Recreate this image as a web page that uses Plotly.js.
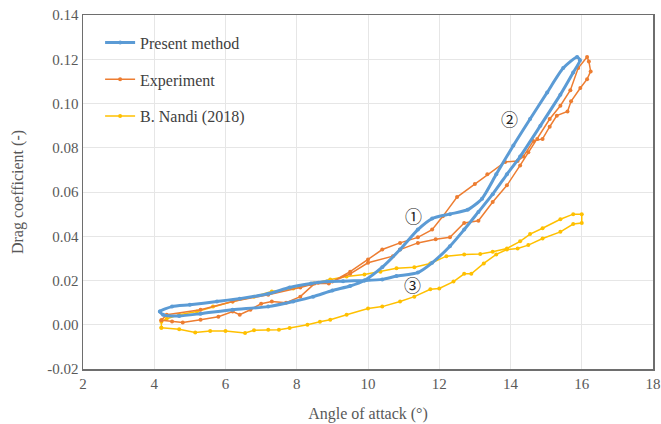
<!DOCTYPE html>
<html><head><meta charset="utf-8">
<script src="https://cdn.plot.ly/plotly-3.0.1.min.js"></script>
<style>body{margin:0;background:#fff}#c{width:661px;height:424px}</style>
</head><body><div id="c"></div>
<script>
const presentX = [4.16,4.5,5.0,5.76,6.4,7.2,7.8,8.4,8.85,9.3,9.9,10.4,10.8,11.4,11.8,12.3,12.7,13.1,13.5,13.9,14.27,14.84,15.4,15.76,15.95,
  15.87,15.48,15.03,14.55,14.08,13.6,13.2,12.8,12.3,11.8,11.4,10.9,10.4,9.9,9.5,9.0,8.46,7.9,7.2,6.2,5.3,4.7,4.25,4.16];
const presentY = [0.006,0.0082,0.009,0.0105,0.0118,0.014,0.0168,0.0186,0.0195,0.0197,0.020,0.0205,0.022,0.0236,0.028,0.0355,0.043,0.051,0.059,0.068,0.076,0.09,0.104,0.114,0.1195,
  0.121,0.116,0.105,0.093,0.081,0.068,0.057,0.052,0.050,0.048,0.043,0.034,0.026,0.020,0.0175,0.0155,0.0127,0.0105,0.0082,0.0068,0.005,0.004,0.0045,0.006];

const expX = [4.2,4.5,4.8,5.3,5.8,6.2,6.4,6.7,7.0,7.3,7.7,8.1,8.5,8.9,9.5,10.0,10.4,10.9,11.4,11.8,12.1,12.5,13.0,13.35,13.85,14.2,14.36,14.64,14.9,15.1,15.3,15.6,15.7,15.96,16.15,16.25,16.2,16.15,
  15.9,15.68,15.4,15.1,14.75,14.5,14.27,13.9,13.5,13.1,12.7,12.3,11.9,11.4,10.9,10.7,10.0,9.5,9.0,8.6,8.1,7.2,6.2,5.3,4.35,4.2];
const expY = [0.002,0.0015,0.001,0.0023,0.0036,0.006,0.0045,0.0068,0.0095,0.0105,0.010,0.0127,0.0186,0.0186,0.024,0.0295,0.034,0.037,0.0395,0.043,0.049,0.0577,0.0636,0.068,0.0736,0.074,0.076,0.083,0.084,0.0895,0.0945,0.0964,0.101,0.107,0.111,0.1145,0.119,0.121,
  0.116,0.106,0.099,0.093,0.084,0.078,0.072,0.063,0.0555,0.047,0.046,0.0395,0.0386,0.037,0.034,0.031,0.028,0.023,0.0195,0.019,0.0168,0.0136,0.0105,0.0068,0.0045,0.002];

const nandiX = [4.2,4.7,5.15,5.57,6.0,6.55,6.8,7.2,7.5,7.8,8.3,8.65,8.94,9.4,10.0,10.4,10.9,11.3,11.75,12.0,12.4,12.7,12.9,13.25,13.6,13.9,14.2,14.5,14.9,15.4,15.76,16.0,16.0,
  15.76,15.4,14.9,14.55,14.27,13.9,13.5,13.15,12.7,12.2,11.75,11.3,10.8,10.35,9.9,9.4,8.94,8.46,7.9,7.3,6.8,6.2,5.65,5.2,4.7,4.35,4.2,4.2];
const nandiY = [-0.0014,-0.002,-0.0035,-0.0028,-0.0028,-0.0037,-0.0025,-0.0023,-0.0023,-0.0015,0.0,0.0014,0.0023,0.0045,0.0073,0.0082,0.0105,0.0127,0.016,0.0164,0.0195,0.023,0.023,0.0277,0.0318,0.034,0.0345,0.036,0.039,0.042,0.0455,0.046,0.050,
  0.050,0.0477,0.0436,0.041,0.0377,0.0345,0.033,0.032,0.0318,0.031,0.0277,0.026,0.0255,0.024,0.0227,0.0218,0.0205,0.0186,0.0164,0.015,0.0127,0.0105,0.0082,0.006,0.0045,0.0027,0.0014,-0.0014];

const xTicks = [2,4,6,8,10,12,14,16,18];
const yTicks = [-0.02,0,0.02,0.04,0.06,0.08,0.10,0.12,0.14];
const yTickText = ['-0.02','0.00','0.02','0.04','0.06','0.08','0.10','0.12','0.14'];
const labels = [
  {t:'\u2460', x:11.27, y:0.0495},
  {t:'\u2461', x:13.97, y:0.0932},
  {t:'\u2462', x:11.24, y:0.0182}
];

const serif = 'Liberation Serif';
const traces = [
  {x:nandiX, y:nandiY, name:'B. Nandi (2018)', mode:'lines+markers', legendgroup:'c', legendrank:3,
   line:{color:'#FFC000', width:1.5}, marker:{color:'#FFC000', size:4}},
  {x:expX, y:expY, name:'Experiment', mode:'lines+markers', legendgroup:'b', legendrank:2,
   line:{color:'#ED7D31', width:1.5}, marker:{color:'#ED7D31', size:4}},
  {x:presentX, y:presentY, name:'Present method', mode:'lines+markers', legendgroup:'a', legendrank:1,
   line:{color:'#5B9BD5', width:3, shape:'spline', smoothing:0.6}, marker:{color:'#5B9BD5', size:4}}
];
const layout = {
  width:661, height:424,
  margin:{l:83, r:8, t:15, b:55},
  paper_bgcolor:'#fff', plot_bgcolor:'#fff',
  font:{family:serif, color:'#595959', size:14},
  showlegend:true,
  legend:{x:0.03, y:0.97, xanchor:'left', yanchor:'top', bgcolor:'rgba(0,0,0,0)',
    font:{family:serif, size:16, color:'#404040'}, traceorder:'grouped', tracegroupgap:13, itemwidth:30},
  xaxis:{range:[2,18], tickvals:xTicks, ticktext:xTicks.map(String), showgrid:true, gridcolor:'#e6e6e6',
    zeroline:false, showline:true, linecolor:'#6e6e6e', linewidth:1.5, mirror:true, ticks:'',
    tickfont:{family:serif, size:15, color:'#595959'},
    title:{text:'Angle of attack (°)', font:{family:serif, size:16, color:'#595959'}, standoff:17}},
  yaxis:{range:[-0.02,0.14], tickvals:yTicks, ticktext:yTickText, showgrid:true, gridcolor:'#e6e6e6',
    zeroline:false, showline:true, linecolor:'#6e6e6e', linewidth:1.5, mirror:true, ticks:'',
    tickfont:{family:serif, size:15, color:'#595959'},
    title:{text:'Drag coefficient (-)', font:{family:serif, size:16, color:'#595959'}, standoff:19}},
  annotations: labels.map(a => ({x:a.x, y:a.y, text:a.t, showarrow:false,
    font:{family:'Noto Sans CJK SC, DejaVu Sans', size:17, color:'#222'}}))
};
Plotly.newPlot('c', traces, layout, {displayModeBar:false, staticPlot:true});
</script></body></html>
